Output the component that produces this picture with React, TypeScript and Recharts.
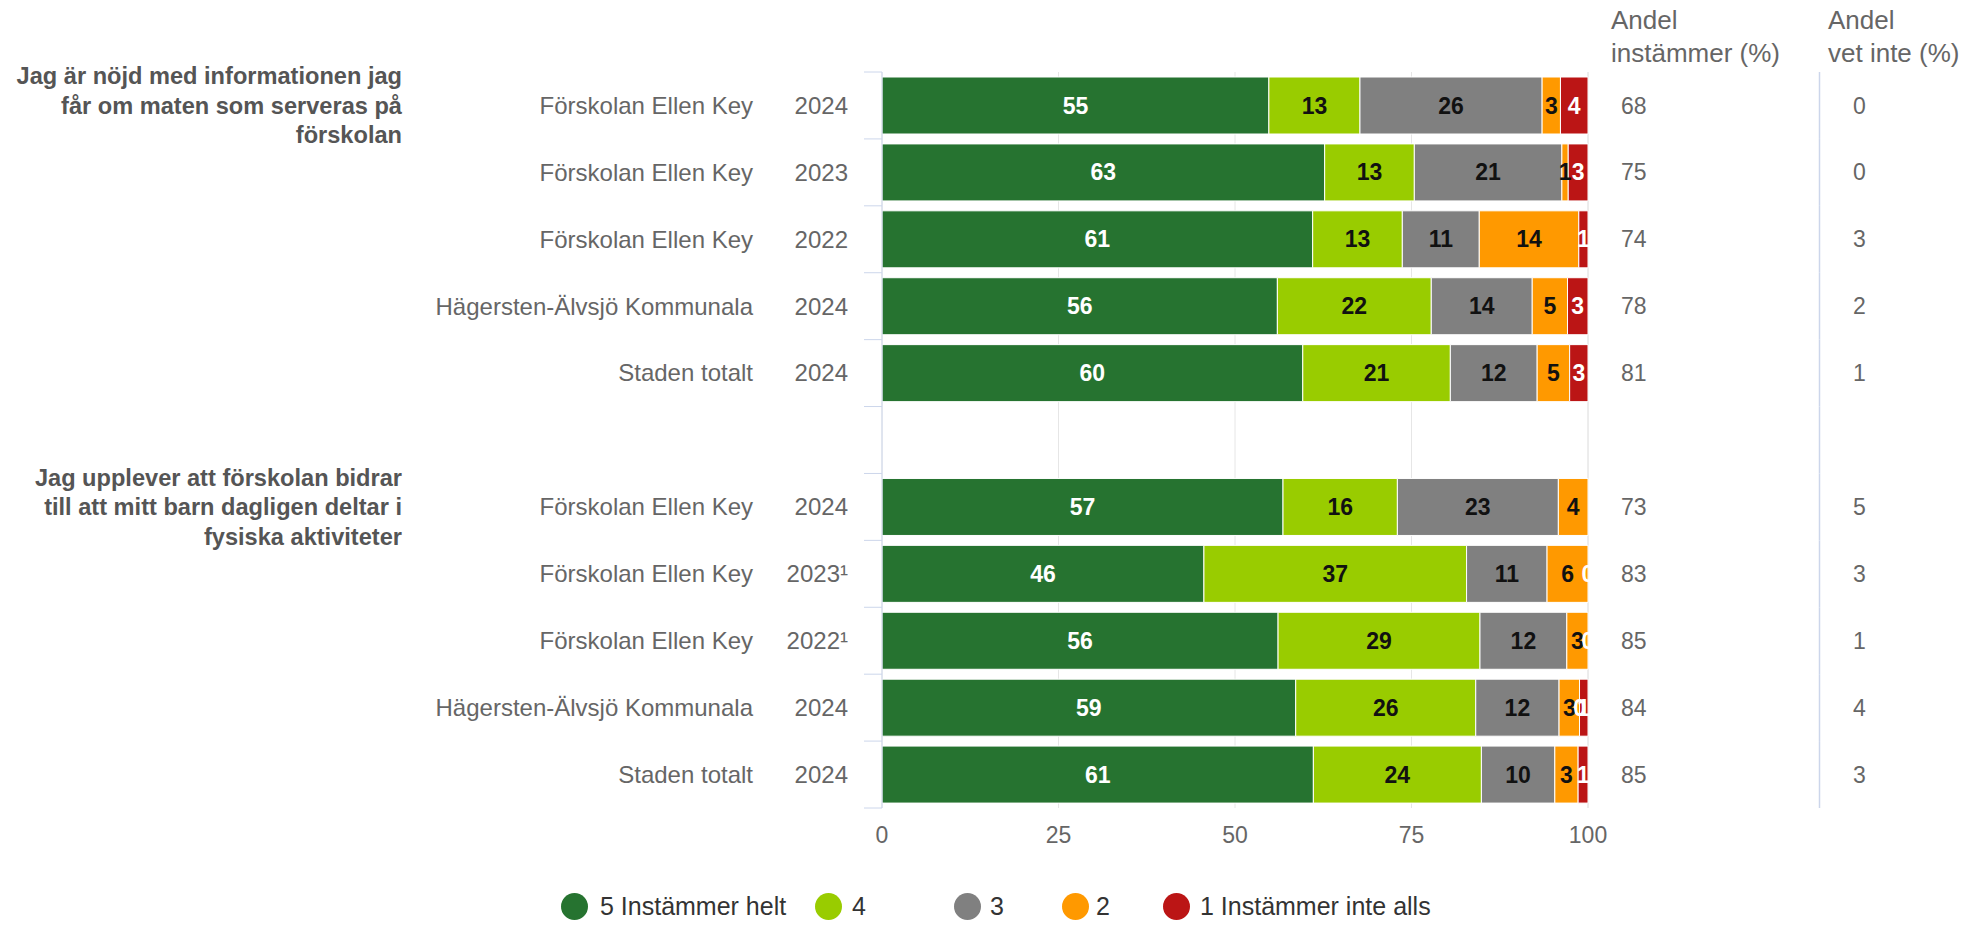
import React from 'react';
import { BarChart, Bar, XAxis, YAxis, CartesianGrid, Legend, LabelList } from 'recharts';

// ---------- data ----------
const groupTitles: string[][] = [
  ['Jag är nöjd med informationen jag', 'får om maten som serveras på', 'förskolan'],
  ['Jag upplever att förskolan bidrar', 'till att mitt barn dagligen deltar i', 'fysiska aktiviteter'],
];
const units: string[] = ['Förskolan Ellen Key', 'Förskolan Ellen Key', 'Förskolan Ellen Key', 'Hägersten-Älvsjö Kommunala', 'Staden totalt'];
const years: string[][] = [
  ['2024', '2023', '2022', '2024', '2024'],
  ['2024', '2023¹', '2022¹', '2024', '2024'],
];
const s5: number[][] = [[54.8, 62.7, 61.0, 56.0, 59.6], [56.8, 45.6, 56.1, 58.6, 61.1]];
const s4: number[][] = [[12.9, 12.7, 12.7, 21.8, 20.9], [16.2, 37.2, 28.6, 25.5, 23.8]];
const s3: number[][] = [[25.8, 20.9, 10.9, 14.3, 12.3], [22.8, 11.4, 12.3, 11.8, 10.4]];
const s2: number[][] = [[2.6, 0.9, 14.1, 5.0, 4.6], [4.2, 5.8, 3.0, 2.9, 3.3]];
const s1: number[][] = [[3.9, 2.8, 1.3, 2.9, 2.6], [0, 0, 0, 1.2, 1.4]];
const agree: number[][] = [[68, 75, 74, 78, 81], [73, 83, 85, 84, 85]];
const dontKnow: number[][] = [[0, 0, 3, 2, 1], [5, 3, 1, 4, 3]];

const seriesKeys = ['v5', 'v4', 'v3', 'v2', 'v1'];
const seriesNames = ['5 Instämmer helt', '4', '3', '2', '1 Instämmer inte alls'];
const seriesColors = ['#267330', '#99cc00', '#808080', '#ff9900', '#bb1515'];
const labelColors = ['#ffffff', '#111111', '#111111', '#111111', '#ffffff'];
const xTicks = [0, 25, 50, 75, 100];
const headerAgree = ['Andel', 'instämmer (%)'];
const headerDontKnow = ['Andel', 'vet inte (%)'];

// ---------- build rows ----------
type Row = {
  id: string;
  unit?: string;
  year?: string;
  title?: string[];
  agree?: number;
  dk?: number;
  gap?: boolean;
  [k: string]: any;
};
const rows: Row[] = [];
groupTitles.forEach((title, g) => {
  if (g > 0) rows.push({ id: 'gap' + g, gap: true });
  units.forEach((u, i) => {
    rows.push({
      id: `g${g}r${i}`,
      unit: u,
      year: years[g][i],
      title: i === 0 ? title : undefined,
      agree: agree[g][i],
      dk: dontKnow[g][i],
      v5: s5[g][i],
      v4: s4[g][i],
      v3: s3[g][i],
      v2: s2[g][i],
      v1: s1[g][i],
    });
  });
});
const rowById: Record<string, Row> = {};
rows.forEach((r) => (rowById[r.id] = r));

// ---------- layout ----------
const W = 1970;
const H = 925;
const TOP = 72;
const PLOT_LEFT = 882;
const PLOT_RIGHT = 1588;
const LEGEND_H = 38;
const XAXIS_H = 79;
const PLOT_BOTTOM = H - LEGEND_H - XAXIS_H;
const BAND = (PLOT_BOTTOM - TOP) / rows.length;
const FONT = '"Liberation Sans", Arial, Helvetica, sans-serif';
const LEGEND_CIRCLE_X = [574, 828, 967, 1075, 1176];
const LEGEND_TEXT_X = [600, 852, 990, 1096, 1200];

const LeftTick = (props: any) => {
  const { y, payload, index } = props;
  const row = rowById[payload?.value];
  const isLast = index === rows.length - 1 || payload?.value === rows[rows.length - 1].id;
  return (
    <g fontFamily={FONT}>
      <line x1={PLOT_LEFT - 18} x2={PLOT_LEFT} y1={y - BAND / 2} y2={y - BAND / 2} stroke="#ccd6eb" strokeWidth={1} />
      {isLast && (
        <line x1={PLOT_LEFT - 18} x2={PLOT_LEFT} y1={y + BAND / 2} y2={y + BAND / 2} stroke="#ccd6eb" strokeWidth={1} />
      )}
      {row && !row.gap && (
        <>
          <text x={753} y={y} dy="0.35em" textAnchor="end" fontSize={24} fill="#666666">
            {row.unit}
          </text>
          <text x={848} y={y} dy="0.35em" textAnchor="end" fontSize={24} fill="#666666">
            {row.year}
          </text>
        </>
      )}
      {row && row.title &&
        row.title.map((line, i) => (
          <text
            key={i}
            x={402}
            y={y + (i - (row.title!.length - 1) / 2) * 29.5}
            dy="0.35em"
            textAnchor="end"
            fontSize={23.6}
            fontWeight="bold"
            fill="#555555"
          >
            {line}
          </text>
        ))}
    </g>
  );
};

const RightTick = (props: any) => {
  const { y, payload, index } = props;
  const row = rowById[payload?.value];
  const isFirst = index === 0 || payload?.value === rows[0].id;
  return (
    <g fontFamily={FONT}>
      <line x1={1819.5} x2={1819.5} y1={y - BAND / 2} y2={y + BAND / 2} stroke="#ccd6eb" strokeWidth={1.5} />
      {isFirst && (
        <>
          {headerAgree.map((t, i) => (
            <text key={'a' + i} x={1611} y={20 + i * 33} dy="0.35em" fontSize={26} fill="#666666">
              {t}
            </text>
          ))}
          {headerDontKnow.map((t, i) => (
            <text key={'d' + i} x={1828} y={20 + i * 33} dy="0.35em" fontSize={26} fill="#666666">
              {t}
            </text>
          ))}
        </>
      )}
      {row && !row.gap && (
        <>
          <text x={1621} y={y} dy="0.35em" fontSize={23} fill="#666666">
            {row.agree}
          </text>
          <text x={1853} y={y} dy="0.35em" fontSize={23} fill="#666666">
            {row.dk}
          </text>
        </>
      )}
    </g>
  );
};

const XTick = (props: any) => {
  const { x, payload } = props;
  return (
    <text x={x} y={PLOT_BOTTOM + 27} dy="0.35em" textAnchor="middle" fontSize={23} fill="#666666" fontFamily={FONT}>
      {payload.value}
    </text>
  );
};

const labelText = (x: number, y: number, color: string, v: number, key?: string) => (
  <text
    key={key}
    x={x}
    y={y}
    dy="0.35em"
    textAnchor="middle"
    fontSize={23}
    fontWeight="bold"
    fill={color}
    fontFamily={FONT}
  >
    {Math.round(v)}
  </text>
);

const makeLabel = (si: number) => (p: any) => {
  const vb = p.viewBox || {};
  const x = p.x ?? vb.x;
  const y = p.y ?? vb.y;
  const width = p.width ?? vb.width ?? 0;
  const height = p.height ?? vb.height ?? 0;
  if (p.value === undefined || p.value === null || x === undefined) return null;
  const row: Row | undefined =
    p.payload && p.payload.id ? p.payload : typeof p.index === 'number' ? rows[p.index] : undefined;
  const nextKey = seriesKeys[si + 1];
  // zero-width next segment: its label sits at the right end of this one
  const zeroNext = nextKey && row && row[nextKey] === 0;
  return (
    <g>
      {labelText(x + width / 2, y + height / 2, labelColors[si], Number(p.value), 'a')}
      {zeroNext && labelText(x + width, y + height / 2, labelColors[si + 1], 0, 'b')}
    </g>
  );
};

const LegendContent = () => (
  <div style={{ position: 'relative', width: W, height: LEGEND_H, fontFamily: FONT, fontSize: 25, color: '#333333' }}>
    {seriesNames.map((n, i) => (
      <React.Fragment key={n}>
        <div
          style={{
            position: 'absolute',
            left: LEGEND_CIRCLE_X[i] - 13.5,
            top: LEGEND_H / 2 - 13.5,
            width: 27,
            height: 27,
            borderRadius: '50%',
            background: seriesColors[i],
          }}
        />
        <span
          style={{
            position: 'absolute',
            left: LEGEND_TEXT_X[i],
            top: 0,
            height: LEGEND_H,
            lineHeight: LEGEND_H + 'px',
            whiteSpace: 'nowrap',
          }}
        >
          {n}
        </span>
      </React.Fragment>
    ))}
  </div>
);

export default function App() {
  return (
    <div style={{ position: 'absolute', left: 0, top: 0, width: W, height: H, background: '#fff' }}>
      <BarChart
        width={W}
        height={H}
        data={rows}
        layout="vertical"
        margin={{ top: TOP, right: 0, bottom: 0, left: PLOT_LEFT - 500 }}
      >
        <CartesianGrid horizontal={false} vertical={true} stroke="#e6e6e6" />
        <XAxis
          type="number"
          domain={[0, 100]}
          ticks={xTicks}
          interval={0}
          axisLine={false}
          tickLine={false}
          height={XAXIS_H}
          tick={<XTick />}
        />
        <YAxis
          type="category"
          dataKey="id"
          width={500}
          interval={0}
          axisLine={{ stroke: '#ccd6eb' }}
          tickLine={false}
          tick={<LeftTick />}
        />
        <YAxis
          yAxisId="r"
          orientation="right"
          type="category"
          dataKey="id"
          width={W - PLOT_RIGHT}
          interval={0}
          axisLine={false}
          tickLine={false}
          tick={<RightTick />}
        />
        <Legend
          verticalAlign="bottom"
          height={LEGEND_H}
          wrapperStyle={{ left: 0, width: W, bottom: 0 }}
          content={() => <LegendContent />}
        />
        {seriesKeys.map((k, i) => (
          <Bar
            key={k}
            dataKey={k}
            name={seriesNames[i]}
            stackId="a"
            fill={seriesColors[i]}
            stroke="#ffffff"
            strokeWidth={1}
            barSize={57}
            isAnimationActive={false}
          >
            <LabelList dataKey={k} content={makeLabel(i)} />
          </Bar>
        ))}
      </BarChart>
    </div>
  );
}
